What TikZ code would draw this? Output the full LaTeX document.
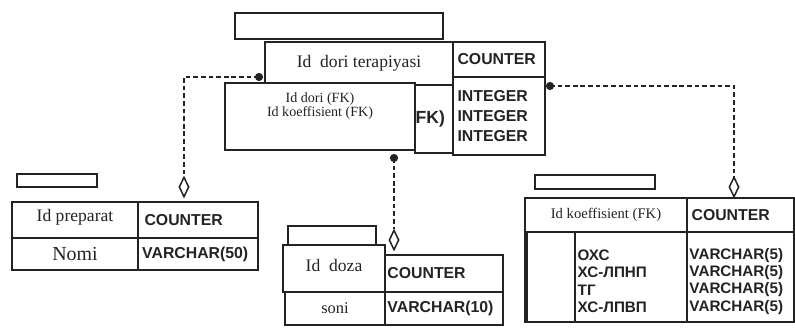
\documentclass[tikz,border=0pt]{standalone}
\usepackage{fontspec}
\setmainfont{Liberation Serif}
\setsansfont{Liberation Sans}
\usepackage{xcolor}
\usepackage{tikz}
\usetikzlibrary{shapes.geometric, fit, positioning}
\definecolor{erink}{RGB}{35, 35, 35}

\begin{document}
\begin{tikzpicture}[x=0.03cm, y=-0.03cm,
    cell/.style={rectangle, draw=erink, fill=white, line width=1.2pt, inner sep=0pt},
    namebox/.style={rectangle, draw=erink, fill=white, line width=1.1pt, inner sep=0pt},
    keytxt/.style={text=erink, inner sep=0pt, font=\fontsize{15}{17}\selectfont},
    typetxt/.style={text=erink, inner sep=0pt, anchor=west, align=left, font=\sffamily\bfseries\fontsize{13.5}{17}\selectfont},
    link/.style={draw=erink, line width=1.6pt, dash pattern=on 4pt off 2.5pt},
    onedot/.style={circle, fill=erink, inner sep=0pt, minimum size=7pt},
    manydm/.style={diamond, draw=erink, fill=white, line width=1.3pt, inner sep=0pt, minimum width=8.5pt, minimum height=17pt}
  ]
  \useasboundingbox (0,0) rectangle (795,332);

  % Id dori terapiyasi
  \node[namebox, fit={(235,13) (443,39)}] (tername) {};
  \node[cell, fit={(265,42) (453,85)}] (terkey) {};
  \node[cell, fit={(453,42) (545,77)}] (tercnt) {};
  \node[cell, fit={(453,77) (545,155)}] (terint) {};
  \node[cell, fit={(415,85) (453,153)}] (terfkc) {};
  \node[cell, fit={(225,83) (415,150)}] (terfk) {};
  \node[keytxt] (terkeyt) at (terkey) {Id\ \ dori terapiyasi};
  \node[typetxt] (tercntt) at ([xshift=4.3pt]tercnt.west) {COUNTER};
  \node[typetxt] (terintt) at ([xshift=4.3pt]terint.west) {INTEGER\\INTEGER\\INTEGER};
  \node[typetxt, font=\sffamily\bfseries\fontsize{15}{17}\selectfont] (terfkct) at ([xshift=1pt]terfkc.west) {FK)};
  \node[keytxt, font=\fontsize{12}{12}\selectfont, align=center, below=9pt of terfk.north] (terfkt) {Id dori (FK)\\Id koeffisient (FK)};

  % Id preparat
  \node[namebox, fit={(17,174) (97,187)}] (prename) {};
  \node[cell, fit={(12,202) (138,238)}] (prekey) {};
  \node[cell, fit={(138,202) (258,238)}] (precnt) {};
  \node[cell, fit={(12,238) (138,270)}] (prenom) {};
  \node[cell, fit={(138,238) (258,270)}] (prevch) {};
  \node[keytxt] (prekeyt) at ([yshift=2pt]prekey) {Id preparat};
  \node[typetxt] (precntt) at ([xshift=6pt]precnt.west) {COUNTER};
  \node[keytxt, font=\fontsize{17}{19}\selectfont] (prenomt) at (prenom) {Nomi};
  \node[typetxt] (prevcht) at ([xshift=4pt]prevch.west) {VARCHAR(50)};

  % Id doza
  \node[namebox, fit={(288,226) (376,250)}] (dozname) {};
  \node[cell, fit={(283,245) (385,292)}] (dozkey) {};
  \node[cell, fit={(385,255) (503,292)}] (dozcnt) {};
  \node[cell, fit={(285,292) (385,325)}] (dozson) {};
  \node[cell, fit={(385,292) (503,325)}] (dozvch) {};
  \node[keytxt] (dozkeyt) at ([yshift=3pt]dozkey) {Id\ \ doza};
  \node[typetxt] (dozcntt) at ([xshift=2.5pt]dozcnt.west) {COUNTER};
  \node[keytxt, font=\fontsize{14}{16}\selectfont] (dozsont) at (dozson) {soni};
  \node[typetxt] (dozvcht) at ([xshift=2.5pt]dozvch.west) {VARCHAR(10)};

  % Id koeffisient
  \node[namebox, fit={(535,175) (655,189)}] (koefname) {};
  \node[cell, fit={(525,198) (687,232)}] (koefkey) {};
  \node[cell, fit={(687,198) (794,232)}] (koefcnt) {};
  \node[cell, fit={(525,232) (687,322)}] (koefbody) {};
  \node[cell, fit={(527,232) (575,322)}] (koefpk) {};
  \node[cell, fit={(687,232) (794,322)}] (koefvch) {};
  \node[keytxt, font=\fontsize{12.5}{14}\selectfont] (koefkeyt) at (koefkey) {Id koeffisient (FK)};
  \node[typetxt] (koefcntt) at ([xshift=4.3pt]koefcnt.west) {COUNTER};
  \node[typetxt, font=\sffamily\bfseries\fontsize{13}{14.8}\selectfont] (koeftxt) at ([xshift=1.5pt, yshift=-3.5pt]koefpk.east) {ОХС\\ХС-ЛПНП\\ТГ\\ХС-ЛПВП};
  \node[typetxt, font=\sffamily\bfseries\fontsize{13}{14.8}\selectfont] (koefvcht) at ([xshift=2.5pt, yshift=-3.5pt]koefvch.west) {VARCHAR(5)\\VARCHAR(5)\\VARCHAR(5)\\VARCHAR(5)};

  % links
  \node[onedot] (ldot) at (259,77) {};
  \node[manydm] (ldm) at (184,187) {};
  \node[onedot] (rdot) at (550,86) {};
  \node[manydm] (rdm) at (734,187) {};
  \node[onedot] (mdot) at (394,158) {};
  \node[manydm] (mdm) at (394,240) {};
  \draw[link] (ldot.center) -| (ldm.north);
  \draw[link] (rdot.center) -| (rdm.north);
  \draw[link] (mdot.center) -- (mdm.north);
\end{tikzpicture}
\end{document}
